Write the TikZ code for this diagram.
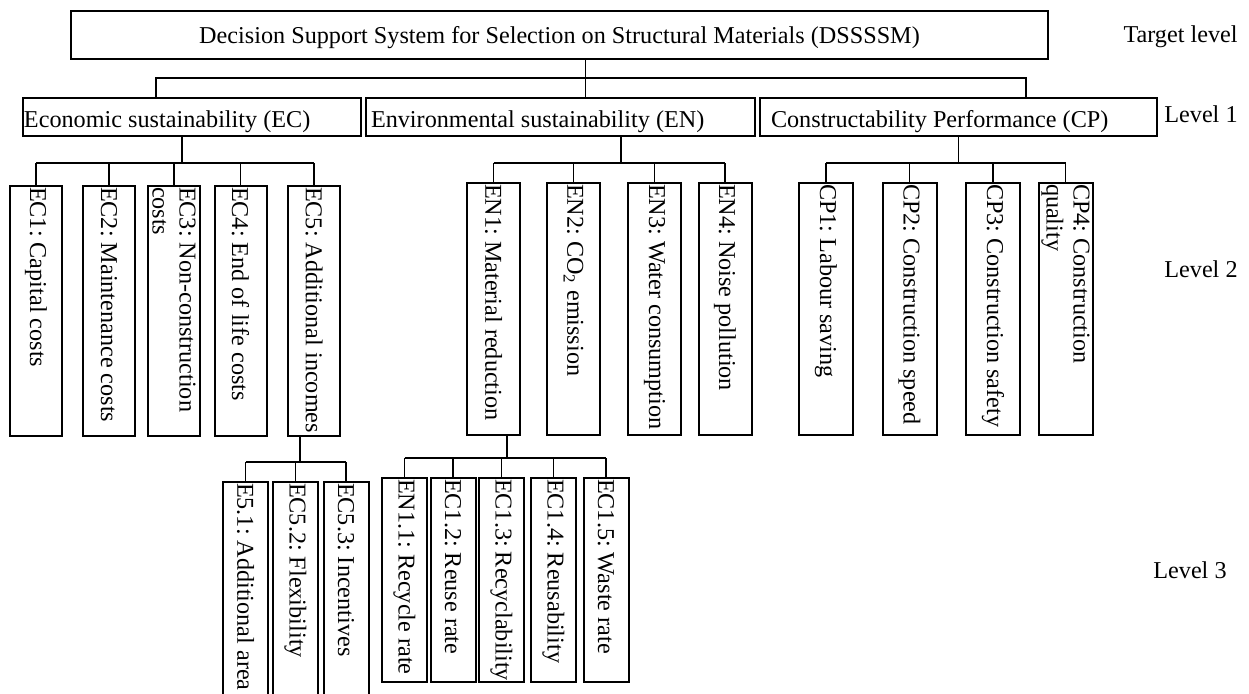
\documentclass[tikz,border=0pt]{standalone}
\usepackage{fontspec}
\setmainfont{Liberation Serif}
\usepackage{tikz}
\usetikzlibrary{positioning}
\hyphenpenalty=10000
\frenchspacing

\begin{document}
\begin{tikzpicture}[
    x=0.5pt, y={(0pt,-0.5pt)},
    font=\fontsize{12.1}{13.5}\selectfont,
    box/.style={draw, line width=1pt, inner sep=0pt},
    topbox/.style={box, minimum width=488.5pt, minimum height=24pt, text height=10.5pt, text depth=2.5pt},
    mainbox/.style={box, anchor=north west, minimum height=19pt, align=flush left, text height=12.5pt, text depth=2.5pt},
    crit/.style={box, rotate=-90, inner xsep=0.5pt, align=flush left},
    critec/.style={crit, minimum width=125pt, text width=124pt, minimum height=26pt},
    criten/.style={crit, minimum width=126pt, text width=125pt, minimum height=26.5pt},
    critcp/.style={crit, minimum width=126pt, text width=125pt, minimum height=27pt},
    subec/.style={crit, minimum width=131.5pt, text width=130.5pt, minimum height=22.5pt},
    suben/.style={crit, minimum width=102pt, text width=101pt, minimum height=22.5pt},
    link/.style={line width=0.9pt},
    lvl/.style={anchor=base east, inner sep=0pt}
  ]
    \useasboundingbox (0,0) rectangle (1249,693);
    \clip (0,0) rectangle (1249,693);

    % Target level
    \node[topbox] (dss) at (559.5,35) {Decision Support System for Selection on Structural Materials (DSSSSM)};

    % Level 1
    \node[mainbox, inner xsep=0.5pt, text width=168pt] (ec) at (22,97) {Economic sustainability (EC)};
    \node[mainbox, inner xsep=2.5pt, text width=189.5pt] (en) at (365,97) {Environmental sustainability (EN)};
    \node[mainbox, inner xsep=5.5pt, text width=187.5pt] (cp) at (759,97) {Constructability Performance (CP)};

    % Level 2
    \node[critec] (ec1) at (36,311) {EC1: Capital costs};
    \node[critec] (ec2) at (109,311) {EC2: Maintenance costs};
    \node[critec] (ec3) at (174,311) {EC3: Non-construction\\costs};
    \node[critec] (ec4) at (240.5,311) {EC4: End of life costs};
    \node[critec] (ec5) at (314,311) {EC5: Additional incomes};

    \node[criten] (en1) at (493.5,309) {EN1: Material reduction};
    \node[criten] (en2) at (573.5,309) {EN2: CO\textsubscript{2} emission};
    \node[criten] (en3) at (654.5,309) {EN3: Water consumption};
    \node[criten] (en4) at (725,309) {EN4: Noise pollution};

    \node[critcp] (cp1) at (826,309) {CP1: Labour saving};
    \node[critcp] (cp2) at (909.5,309) {CP2: Construction speed};
    \node[critcp] (cp3) at (993,309) {CP3: Construction safety};
    \node[critcp] (cp4) at (1065.5,309) {CP4: Construction\\quality};

    % Level 3
    \node[subec] (ec51) at (245.5,613.5) {E5.1: Additional area};
    \node[subec] (ec52) at (295.5,613.5) {EC5.2: Flexibility};
    \node[subec] (ec53) at (346,613.5) {EC5.3: Incentives};

    \node[suben] (en11) at (404.5,580) {EN1.1: Recycle rate};
    \node[suben] (en12) at (453,580) {EC1.2: Reuse rate};
    \node[suben] (en13) at (501.5,580) {EC1.3:~Recyclability};
    \node[suben] (en14) at (553.5,580) {EC1.4: Reusability};
    \node[suben] (en15) at (606,580) {EC1.5: Waste rate};

    % Level labels
    \node[lvl] (tl) at (1238,42) {Target level};
    \node[lvl] (l1) at (1238,122) {Level 1};
    \node[lvl] (l2) at (1238,277) {Level 2};
    \node[lvl] (l3) at (1227,578) {Level 3};

    % Target level to level 1
    \draw[link] ([xshift=13pt]dss.south) -- ([xshift=13pt]dss.south |- en.north);
    \draw[link] ([xshift=-18pt]ec.north) -- ++(0,-19) -| ([xshift=33.75pt]cp.north);

    % Level 1 to level 2
    \draw[link] ([xshift=-5pt]ec.south) -- ++(0,26) coordinate (ecbar);
    \draw[link] (ecbar -| ec1.west) -- (ecbar -| ec5.west);
    \foreach \i in {1,...,5}
      \draw[link] (ecbar -| ec\i.west) -- (ec\i.west);

    \draw[link] ([xshift=30.25pt]en.south) -- ++(0,26) coordinate (enbar);
    \draw[link] (enbar -| en1.west) -- (enbar -| en4.west);
    \foreach \i in {1,...,4}
      \draw[link] (enbar -| en\i.west) -- (en\i.west);

    \draw[link] (cp.south) -- ++(0,26) coordinate (cpbar);
    \draw[link] (cpbar -| cp1.west) -- (cpbar -| cp4.west);
    \foreach \i in {1,...,4}
      \draw[link] (cpbar -| cp\i.west) -- (cp\i.west);

    % Level 2 to level 3
    \draw[link] ([xshift=-7pt]ec5.east) -- ++(0,25) coordinate (ec5bar);
    \draw[link] (ec5bar -| ec51.west) -- (ec5bar -| ec53.west);
    \foreach \i in {1,...,3}
      \draw[link] (ec5bar -| ec5\i.west) -- (ec5\i.west);

    \draw[link] ([xshift=6.75pt]en1.east) -- ++(0,22) coordinate (en1bar);
    \draw[link] (en1bar -| en11.west) -- (en1bar -| en15.west);
    \foreach \i in {1,...,5}
      \draw[link] (en1bar -| en1\i.west) -- (en1\i.west);
  \end{tikzpicture}
\end{document}
